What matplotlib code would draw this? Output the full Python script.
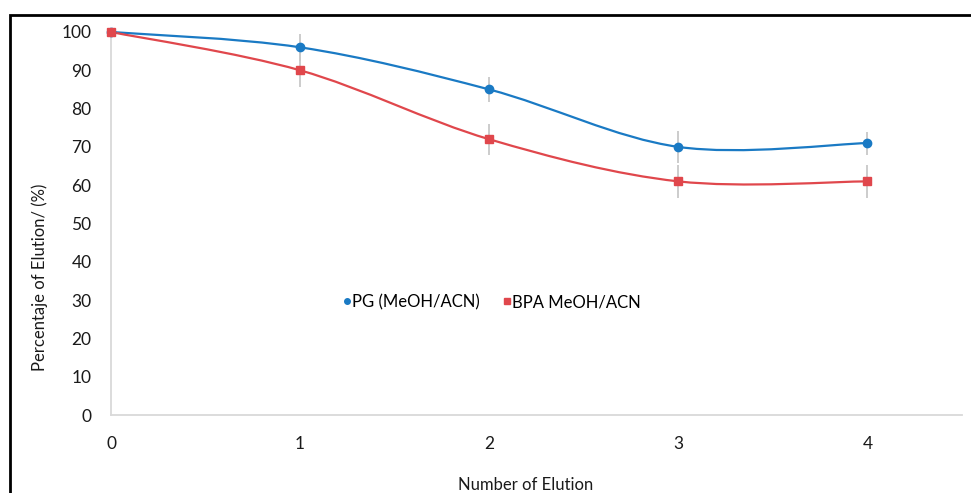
import numpy as np
import matplotlib
matplotlib.use("Agg")
import matplotlib.pyplot as plt
from matplotlib.path import Path
from matplotlib.patches import PathPatch, Rectangle
from matplotlib.lines import Line2D

plt.rcParams['font.family'] = ['Lato', 'DejaVu Sans']

# Daten
Elution = np.array([0, 1, 2, 3, 4])
PG = np.array([100, 96, 85, 70, 71])          # PG (MeOH/ACN)
PG_err = np.array([0, 3.5, 3.2, 4.2, 3.0])
BPA = np.array([100, 90, 72, 61, 61])         # BPA MeOH/ACN
BPA_err = np.array([0, 4.4, 4.0, 4.3, 4.3])

blau = "#1a7ac4"
rot = "#e0474c"


# Excel-artige Glättung (Bezier mit Nachbarpunkten)
def glatt(ax, x, y, color):
    n = len(x)
    verts = [(x[0], y[0])]
    codes = [Path.MOVETO]
    for i in range(n - 1):
        x0, y0 = (x[i - 1], y[i - 1]) if i > 0 else (x[i], y[i])
        x3, y3 = (x[i + 2], y[i + 2]) if i + 2 < n else (x[i + 1], y[i + 1])
        c1 = (x[i] + (x[i + 1] - x0) / 6, y[i] + (y[i + 1] - y0) / 6)
        c2 = (x[i + 1] - (x3 - x[i]) / 6, y[i + 1] - (y3 - y[i]) / 6)
        verts += [c1, c2, (x[i + 1], y[i + 1])]
        codes += [Path.CURVE4] * 3
    ax.add_patch(PathPatch(Path(verts, codes), facecolor="none", edgecolor=color, lw=1.6,
                           zorder=3, clip_on=False))


fig = plt.figure(figsize=(9.71, 4.93), dpi=100)
ax = fig.add_axes([111 / 971, 1 - 415 / 493, (962 - 111) / 971, (415 - 32) / 493])

ax.errorbar(Elution, PG, yerr=PG_err, fmt="none", ecolor="#c8c8c8", elinewidth=1.3, capsize=0, zorder=2)
ax.errorbar(Elution, BPA, yerr=BPA_err, fmt="none", ecolor="#c8c8c8", elinewidth=1.3, capsize=0, zorder=2)
glatt(ax, Elution, PG, blau)
glatt(ax, Elution, BPA, rot)
ax.plot(Elution, PG, "o", color=blau, markersize=6, zorder=4, clip_on=False)
ax.plot(Elution, BPA, "s", color=rot, markersize=6, zorder=4, clip_on=False)

ax.set_xlim(0, 4.5)
ax.set_ylim(0, 100)
ax.set_xticks(Elution)
ax.set_yticks(np.arange(0, 101, 10))
ax.tick_params(length=0, labelsize=12.5, colors="#1a1a1a")
ax.tick_params(axis="x", pad=15)
ax.tick_params(axis="y", pad=14)
for s in ["top", "right"]:
    ax.spines[s].set_visible(False)
for s in ["left", "bottom"]:
    ax.spines[s].set_color("#d9d9d9")
    ax.spines[s].set_linewidth(1.3)

fig.text(526 / 971, 1 - 485 / 493, "Number of Elution", ha="center", va="center", fontsize=12, color="#1a1a1a")
fig.text(40 / 971, 1 - 277 / 493, "Percentaje of Elution/ (%)", ha="center", va="center",
         rotation=90, fontsize=12, color="#1a1a1a")

handles = [Line2D([], [], marker="o", color=blau, ls="none", markersize=4),
           Line2D([], [], marker="s", color=rot, ls="none", markersize=4)]
ax.legend(handles, ["PG (MeOH/ACN)", "BPA MeOH/ACN"], ncol=2, frameon=False, fontsize=12,
          loc="center", bbox_to_anchor=((492 - 111) / (962 - 111), (415 - 302) / (415 - 32)),
          handlelength=0.4, handletextpad=0.1, columnspacing=1.4)

# Rahmen
fig.patches.append(Rectangle((10 / 971, -0.1), 1.2, 1 - 15 / 493 + 0.1, transform=fig.transFigure,
                             fill=False, edgecolor="black", lw=2))

plt.savefig("out.png")
